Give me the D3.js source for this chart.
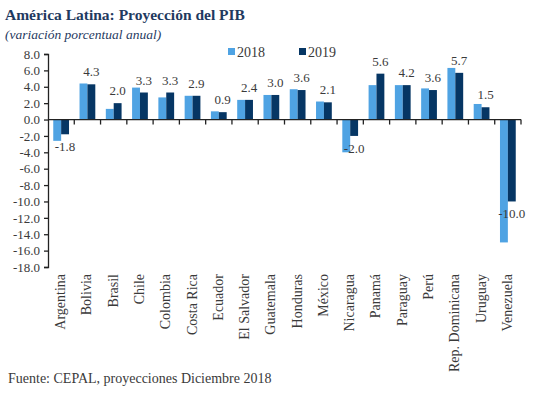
<!DOCTYPE html>
<html>
<head>
<meta charset="utf-8">
<title>America Latina: Proyeccion del PIB</title>
<style>
    body { margin: 0; background: #fff; }
    svg text { font-family: "Liberation Serif", "DejaVu Serif", serif; }
</style>
<script src="https://d3js.org/d3.v7.min.js"></script>
</head>
<body>
<script>
// data
var countries = ["Argentina", "Bolivia", "Brasil", "Chile", "Colombia", "Costa Rica", "Ecuador",
    "El Salvador", "Guatemala", "Honduras", "México", "Nicaragua", "Panamá", "Paraguay",
    "Perú", "Rep. Dominicana", "Uruguay", "Venezuela"];
var v2018 = [-2.6, 4.4, 1.3, 3.9, 2.7, 2.9, 1.0, 2.4, 3.0, 3.7, 2.2, -4.0, 4.2, 4.2, 3.8, 6.3, 1.9, -15.0];
var v2019 = [-1.8, 4.3, 2.0, 3.3, 3.3, 2.9, 0.9, 2.4, 3.0, 3.6, 2.1, -2.0, 5.6, 4.2, 3.6, 5.7, 1.5, -10.0];
var seriesNames = ["2018", "2019"];
var yTicks = [8, 6, 4, 2, 0, -2, -4, -6, -8, -10, -12, -14, -16, -18];

var width = 535, height = 395;
var col2018 = "#4fa3e3", col2019 = "#063664";
var textCol = "#3a3a3a";

var svg = d3.select("body").append("svg")
    .attr("width", width)
    .attr("height", height);

// titles
svg.append("text")
    .attr("x", 5).attr("y", 20)
    .attr("fill", "#1f3a5f")
    .style("font-size", "15.5px").style("font-weight", "bold")
    .text("América Latina: Proyección del PIB");
svg.append("text")
    .attr("x", 5).attr("y", 39)
    .attr("fill", "#1f3a5f")
    .style("font-size", "13.5px").style("font-style", "italic")
    .text("(variación porcentual anual)");

var plotL = 48, plotR = 521, plotT = 54, plotB = 267;

var x = d3.scaleBand()
    .domain(countries)
    .range([plotL, plotR])
    .paddingInner(0.4)
    .paddingOuter(0.2);
var step = x.step();

var y = d3.scaleLinear().domain([-18, 8]).range([plotB, plotT]);

var xs = d3.scaleBand().domain(seriesNames).range([0, x.bandwidth()]);

var rows = countries.map(function(c, i) {
    return { name: c, vals: [v2018[i], v2019[i]] };
});

// bars
var g = svg.append("g");
var groups = g.selectAll("g.grp").data(rows).enter().append("g")
    .attr("class", "grp")
    .attr("transform", function(d) { return "translate(" + x(d.name) + ",0)"; });

groups.selectAll("rect").data(function(d) {
        return seriesNames.map(function(s, j) { return { s: s, v: d.vals[j] }; });
    }).enter().append("rect")
    .attr("x", function(d) { return xs(d.s); })
    .attr("width", xs.bandwidth())
    .attr("y", function(d) { return y(Math.max(0, d.v)); })
    .attr("height", function(d) { return Math.abs(y(d.v) - y(0)); })
    .attr("fill", function(d) { return d.s == "2018" ? col2018 : col2019; });

// data labels (2019)
groups.append("text")
    .attr("x", xs("2019") + xs.bandwidth() / 2)
    .attr("y", function(d) {
        var v = d.vals[1];
        return v >= 0 ? y(v) - 8 : y(v) + 17;
    })
    .attr("text-anchor", "middle")
    .attr("fill", textCol)
    .style("font-size", "13px")
    .text(function(d) { return d.vals[1].toFixed(1); });

// y axis
var yAxis = d3.axisLeft(y).tickValues(yTicks).tickSize(4)
    .tickFormat(function(d) { return d.toFixed(1); });
var ya = svg.append("g").attr("transform", "translate(" + plotL + ",0)").call(yAxis);
ya.select(".domain").attr("stroke", "#222").attr("stroke-width", 1.3);
ya.selectAll(".tick line").attr("stroke", "#222").attr("stroke-width", 1.3);
ya.selectAll(".tick text")
    .attr("x", -8)
    .attr("fill", textCol)
    .style("font-family", "Liberation Serif, serif")
    .style("font-size", "13px");

// zero line with category ticks
var bounds = d3.range(countries.length + 1).map(function(i) { return plotL + i * step; });
svg.append("line")
    .attr("x1", plotL).attr("x2", plotR)
    .attr("y1", y(0)).attr("y2", y(0))
    .attr("stroke", "#222").attr("stroke-width", 1.3);
svg.selectAll("line.ct").data(bounds.slice(1)).enter().append("line")
    .attr("class", "ct")
    .attr("x1", function(d) { return d; }).attr("x2", function(d) { return d; })
    .attr("y1", y(0)).attr("y2", y(0) + 5)
    .attr("stroke", "#222").attr("stroke-width", 1.3);

// category labels
svg.selectAll("text.cat").data(rows).enter().append("text")
    .attr("class", "cat")
    .attr("transform", function(d) {
        return "translate(" + (x(d.name) + x.bandwidth() / 2 + 4) + "," + (plotB + 7) + ") rotate(-90)";
    })
    .attr("text-anchor", "end")
    .attr("fill", textCol)
    .style("font-size", "14px")
    .text(function(d) { return d.name; });

// legend
var legend = svg.append("g");
var lx = [228, 299];
seriesNames.forEach(function(s, i) {
    legend.append("rect")
        .attr("x", lx[i]).attr("y", 48)
        .attr("width", 7).attr("height", 7)
        .attr("fill", i == 0 ? col2018 : col2019);
    legend.append("text")
        .attr("x", lx[i] + 9).attr("y", 57)
        .attr("fill", textCol)
        .style("font-size", "14px")
        .text(s);
});

// source
svg.append("text")
    .attr("x", 8).attr("y", 383)
    .attr("fill", textCol)
    .style("font-size", "14px")
    .text("Fuente: CEPAL, proyecciones Diciembre 2018");
</script>
</body>
</html>
